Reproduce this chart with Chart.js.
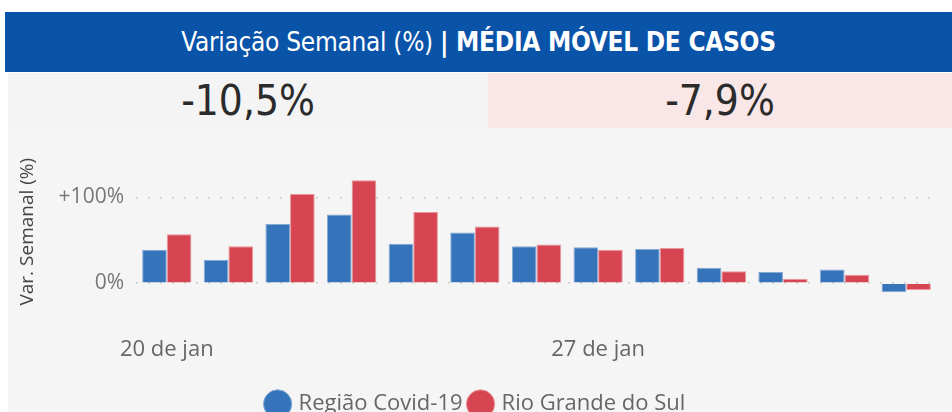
<!DOCTYPE html>
<html>
<head>
<meta charset="utf-8">
<script src="https://cdn.jsdelivr.net/npm/chart.js@4"></script>
<style>
  html, body { margin: 0; padding: 0; background: #fff; overflow: hidden; }
  body { width: 952px; height: 412px; position: relative; font-family: "Open Sans", sans-serif; }
  #header {
    position: absolute; left: 5px; top: 12px; width: 947px; height: 60px;
    background: #0953a8; color: #fff; text-align: center; line-height: 60px;
    font-family: "DejaVu Sans Condensed", "Liberation Sans Narrow", sans-serif; font-stretch: condensed;
    font-size: 26px; letter-spacing: -0.3px;
  }
  #header b { font-weight: bold; }
  .val {
    position: absolute; top: 73px; height: 55px; line-height: 55px; text-align: center;
    font-family: "DejaVu Sans Condensed", "Liberation Sans Narrow", sans-serif; font-stretch: condensed;
    font-size: 42px; color: #2b2b2b;
  }
  #v1 { left: 8px; width: 480px; background: #f4f4f4; }
  #v2 { left: 488px; width: 464px; background: #f9e6e7; }
  #wrap { position: absolute; left: 8px; top: 128px; width: 944px; height: 300px; background: #f5f5f5; }
</style>
</head>
<body>
<div id="header">Variação Semanal (%) <b>| MÉDIA MÓVEL DE CASOS</b></div>
<div class="val" id="v1"></div>
<div class="val" id="v2"></div>
<div id="wrap"><canvas id="chart" width="944" height="300"></canvas></div>
<script>
const dias = ['20 de jan', '21 de jan', '22 de jan', '23 de jan', '24 de jan', '25 de jan', '26 de jan',
              '27 de jan', '28 de jan', '29 de jan', '30 de jan', '31 de jan', '1 de fev'];
const rotulosVisiveis = ['20 de jan', '27 de jan'];
const regiao = [39, 27, 69, 80, 46, 59, 43, 42, 40, 18, 13, 16, -10.5];
const rioGrande = [57, 43, 104, 120, 83, 66, 45, 39, 41, 14, 5, 10, -7.9];
const yTicks = [0, 100];

const fmt = v => v.toLocaleString('pt-BR', { minimumFractionDigits: 1, maximumFractionDigits: 1 }) + '%';
document.getElementById('v1').textContent = fmt(regiao[regiao.length - 1]);
document.getElementById('v2').textContent = fmt(rioGrande[rioGrande.length - 1]);

const ctx = document.getElementById('chart').getContext('2d');
new Chart(ctx, {
    type: 'bar',
    data: {
        labels: dias,
        datasets: [{
            label: 'Região Covid-19',
            data: regiao,
            backgroundColor: '#3573ba',
            borderColor: '#86a9d6',
            borderWidth: 1,
            categoryPercentage: 0.8,
            barPercentage: 1.0
        }, {
            label: 'Rio Grande do Sul',
            data: rioGrande,
            backgroundColor: '#d64551',
            borderColor: '#e8959b',
            borderWidth: 1,
            categoryPercentage: 0.8,
            barPercentage: 1.0
        }]
    },
    options: {
        responsive: false,
        animation: false,
        layout: { padding: { top: 35, right: 15, bottom: 3, left: 8 } },
        plugins: {
            legend: {
                position: 'bottom',
                labels: {
                    usePointStyle: true,
                    pointStyle: 'circle',
                    boxWidth: 20,
                    boxHeight: 20,
                    padding: 8,
                    color: '#666',
                    font: { family: 'Open Sans', size: 22 }
                }
            },
            tooltip: { enabled: false }
        },
        scales: {
            x: {
                grid: { display: false, drawTicks: false },
                border: { display: false },
                ticks: {
                    autoSkip: false,
                    maxRotation: 0,
                    padding: 36,
                    color: '#666',
                    font: { family: 'Open Sans', size: 22 },
                    callback: function (v, i) {
                        const l = dias[i];
                        return rotulosVisiveis.includes(l) ? l : '';
                    }
                },
                afterFit: s => { s.height = 84.6; }
            },
            y: {
                min: -20,
                max: 140,
                afterBuildTicks: s => { s.ticks = yTicks.map(v => ({ value: v })); },
                grid: {
                    drawTicks: false,
                    color: '#cccccc',
                    lineWidth: 1.5
                },
                border: { display: false, dash: [2, 10] },
                ticks: {
                    padding: 12,
                    color: '#777',
                    font: { family: 'Open Sans', size: 21 },
                    callback: v => (v > 0 ? '+' : '') + v + '%'
                },
                title: {
                    display: true,
                    text: 'Var. Semanal (%)',
                    color: '#444',
                    font: { family: 'Open Sans', size: 19 },
                    padding: { top: 0, bottom: 0 }
                },
                afterFit: s => { s.width = 120; }
            }
        }
    }
});
</script>
</body>
</html>
